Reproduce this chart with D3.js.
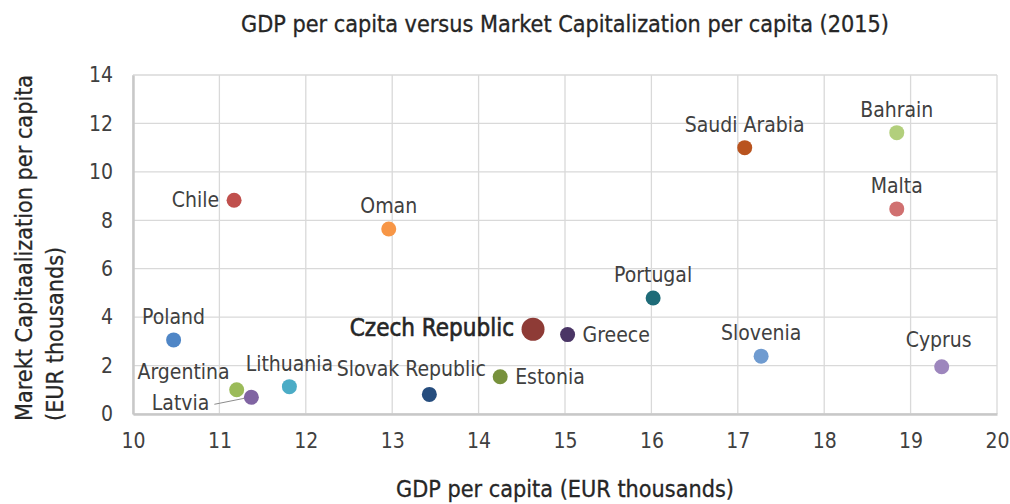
<!DOCTYPE html>
<html>
<head>
<meta charset="utf-8">
<script src="https://cdn.jsdelivr.net/npm/d3@7"></script>
<style>
  body { margin: 0; background: #fff; }
  svg text { font-family: "Liberation Sans Narrow", "DejaVu Sans Condensed", "Roboto", sans-serif; }
</style>
</head>
<body>
<div id="chart"></div>
<script>
// Values
const countries = ["Poland", "Argentina", "Latvia", "Lithuania", "Chile", "Oman", "Slovak Republic", "Estonia",
    "Czech Republic", "Greece", "Portugal", "Saudi Arabia", "Slovenia", "Bahrain", "Malta", "Cyprus"];
const gdpPerCapita = [10.47, 11.2, 11.37, 11.81, 11.17, 12.96, 13.43, 14.25, 14.63, 15.03, 16.02, 17.08, 17.27, 18.84, 18.84, 19.36];
const marketCapPerCapita = [3.06, 1.0, 0.69, 1.13, 8.83, 7.64, 0.81, 1.54, 3.5, 3.28, 4.79, 11.0, 2.39, 11.62, 8.47, 1.95];
const dotColors = ["#4f86c6", "#9bbb59", "#8064a2", "#4bacc6", "#c0504d", "#f79646", "#264d7e", "#77913c",
    "#8e3b36", "#4a3565", "#1e6b78", "#b9541f", "#6f9bd0", "#b2cf7c", "#d07070", "#9d86bd"];
const xTicks = [10, 11, 12, 13, 14, 15, 16, 17, 18, 19, 20];
const yTicks = [0, 2, 4, 6, 8, 10, 12, 14];

// where each label sits relative to its dot
const labelPos = {
    "Chile": "left", "Argentina": "upleft", "Latvia": "leader", "Slovak Republic": "aboveleft",
    "Czech Republic": "left", "Estonia": "right", "Greece": "right", "Cyprus": "abovehigh"
};
const highlight = "Czech Republic";

const width = 1010, height = 504;
const margin = { top: 75, right: 13, bottom: 90, left: 133 };

const svg = d3.select("#chart").append("svg")
    .attr("width", width).attr("height", height);

const x = d3.scaleLinear().domain([10, 20]).range([margin.left, width - margin.right]);
const y = d3.scaleLinear().domain([0, 14]).range([height - margin.bottom, margin.top]);

// grid
const grid = svg.append("g");
grid.selectAll(".vg").data(xTicks).join("line")
    .attr("x1", d => x(d)).attr("x2", d => x(d))
    .attr("y1", y(0)).attr("y2", y(14))
    .attr("stroke", "#d9d9d9").attr("stroke-width", 1.3);
grid.selectAll(".hg").data(yTicks).join("line")
    .attr("x1", x(10)).attr("x2", x(20))
    .attr("y1", d => y(d)).attr("y2", d => y(d))
    .attr("stroke", "#d9d9d9").attr("stroke-width", 1.3);

// axes
const xAxis = svg.append("g")
    .attr("transform", `translate(0,${y(0)})`)
    .call(d3.axisBottom(x).tickValues(xTicks).tickSize(0).tickPadding(19));
const yAxis = svg.append("g")
    .attr("transform", `translate(${x(10)},0)`)
    .call(d3.axisLeft(y).tickValues(yTicks).tickSize(0).tickPadding(20));
[xAxis, yAxis].forEach(a => {
    a.select(".domain").attr("stroke", "#c8c8c8").attr("stroke-width", 2.5);
    a.selectAll("text").attr("font-size", 21).attr("fill", "#404040")
        .attr("font-family", '"Liberation Sans Narrow", "DejaVu Sans Condensed", sans-serif');
});

// points
const pts = countries.map((c, i) => ({ name: c, gx: gdpPerCapita[i], my: marketCapPerCapita[i], color: dotColors[i] }));

// leader line for Latvia
const lat = pts.find(p => p.name === "Latvia");
svg.append("line")
    .attr("x1", x(lat.gx) - 37).attr("y1", y(lat.my) + 7)
    .attr("x2", x(lat.gx) - 7).attr("y2", y(lat.my) + 1)
    .attr("stroke", "#8c8c8c").attr("stroke-width", 1);

svg.append("g").selectAll("circle").data(pts).join("circle")
    .attr("cx", d => x(d.gx)).attr("cy", d => y(d.my))
    .attr("r", d => d.name === highlight ? 11.5 : 7.5)
    .attr("fill", d => d.color);

// labels
svg.append("g").selectAll("text").data(pts).join("text")
    .text(d => d.name)
    .attr("font-size", d => d.name === highlight ? 24 : 21)
    .attr("fill", d => d.name === highlight ? "#262626" : "#404040")
    .attr("stroke", d => d.name === highlight ? "#262626" : "none")
    .attr("stroke-width", 0.6)
    .each(function (d) {
        const t = d3.select(this);
        const cx = x(d.gx), cy = y(d.my);
        const pos = labelPos[d.name] || "above";
        if (pos === "above") t.attr("x", cx).attr("y", cy - 16).attr("text-anchor", "middle");
        else if (pos === "abovehigh") t.attr("x", cx - 3).attr("y", cy - 20).attr("text-anchor", "middle");
        else if (pos === "aboveleft") t.attr("x", cx - 18).attr("y", cy - 18).attr("text-anchor", "middle");
        else if (pos === "left") t.attr("x", cx - (d.name === highlight ? 19 : 15)).attr("y", cy + 7).attr("text-anchor", "end");
        else if (pos === "right") t.attr("x", cx + 15).attr("y", cy + 7).attr("text-anchor", "start");
        else if (pos === "upleft") t.attr("x", cx - 7).attr("y", cy - 11).attr("text-anchor", "end");
        else if (pos === "leader") t.attr("x", cx - 42).attr("y", cy + 13).attr("text-anchor", "end");
    });

// titles
svg.append("text")
    .attr("x", (x(10) + x(20)) / 2).attr("y", 32)
    .attr("text-anchor", "middle").attr("font-size", 23.2)
    .attr("fill", "#262626").attr("stroke", "#262626").attr("stroke-width", 0.3)
    .text("GDP per capita versus Market Capitalization per capita (2015)");

svg.append("text")
    .attr("x", (x(10) + x(20)) / 2).attr("y", 497)
    .attr("text-anchor", "middle").attr("font-size", 23.2)
    .attr("fill", "#262626").attr("stroke", "#262626").attr("stroke-width", 0.3)
    .text("GDP per capita (EUR thousands)");

const yTitle = svg.append("text")
    .attr("transform", "translate(32,421) rotate(-90)")
    .attr("text-anchor", "start").attr("font-size", 23.2)
    .attr("fill", "#262626").attr("stroke", "#262626").attr("stroke-width", 0.3);
yTitle.append("tspan").attr("x", 0).attr("y", 0).text("Marekt Capitaalization per capita");
yTitle.append("tspan").attr("x", 0).attr("y", 31).text("(EUR thousands)");
</script>
</body>
</html>
